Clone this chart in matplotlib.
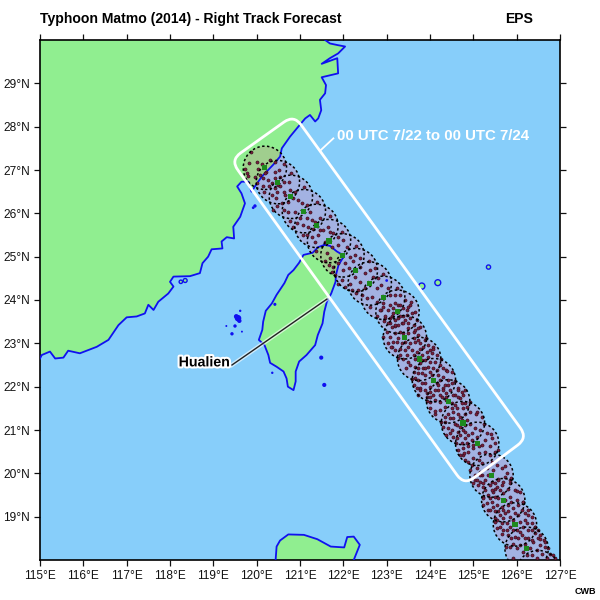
#Typhoon Matmo ensemble track map, EPS right track forecast
import numpy as np
import matplotlib
matplotlib.use("Agg")
import matplotlib.pyplot as plt
import matplotlib.patheffects as pe
from matplotlib.path import Path
from matplotlib.patches import PathPatch, Circle

plt.rcParams['font.family'] = ['Liberation Sans', 'DejaVu Sans']

# coastlines, lon/lat
china_lon = [115.0, 121.58, 121.69, 121.88, 122.04, 121.88, 121.69, 121.50, 121.86, 121.88, 121.50, 121.60, 121.58, 121.46, 121.49, 121.42, 121.35, 121.23, 121.12, 120.96, 120.77, 120.58, 120.54, 120.38, 120.12, 119.96, 119.88, 119.81, 119.65, 119.55, 119.65, 119.73, 119.62, 119.46, 119.48, 119.31, 119.19, 119.21, 118.96, 118.88, 118.75, 118.69, 118.46, 118.08, 118.00, 118.08, 117.96, 117.73, 117.62, 117.50, 117.42, 117.23, 117.00, 116.81, 116.58, 116.31, 115.92, 115.65, 115.54, 115.35, 115.23, 115.04, 115.00]
china_lat = [30.0, 30.00, 29.92, 29.88, 29.85, 29.69, 29.58, 29.45, 29.58, 29.23, 29.14, 28.96, 28.77, 28.62, 28.38, 28.19, 28.12, 28.27, 28.19, 28.00, 27.77, 27.50, 27.31, 27.12, 26.85, 26.62, 26.50, 26.73, 26.73, 26.62, 26.46, 26.23, 25.92, 25.69, 25.42, 25.45, 25.35, 25.19, 25.17, 25.00, 24.85, 24.62, 24.55, 24.54, 24.42, 24.31, 24.15, 23.96, 23.77, 23.89, 23.69, 23.62, 23.60, 23.42, 23.08, 22.92, 22.77, 22.83, 22.67, 22.65, 22.81, 22.73, 22.65]
taiwan_lon = [121.56, 121.42, 121.29, 121.08, 120.98, 120.85, 120.73, 120.64, 120.46, 120.35, 120.21, 120.15, 120.13, 120.05, 120.18, 120.27, 120.31, 120.46, 120.62, 120.69, 120.72, 120.85, 120.90, 120.90, 120.98, 121.15, 121.35, 121.41, 121.52, 121.56, 121.62, 121.72, 121.82, 121.83, 121.89, 122.02, 121.85, 121.69]
taiwan_lat = [25.27, 25.22, 25.09, 25.04, 24.86, 24.69, 24.58, 24.39, 24.12, 23.92, 23.75, 23.50, 23.31, 23.08, 22.96, 22.73, 22.55, 22.46, 22.35, 22.19, 22.00, 21.92, 22.12, 22.35, 22.58, 22.73, 22.96, 23.19, 23.46, 23.73, 23.96, 24.15, 24.42, 24.58, 24.81, 25.02, 25.12, 25.25]
luzon_lon = [120.43, 120.46, 120.54, 120.73, 121.09, 121.40, 121.71, 122.02, 122.09, 122.24, 122.38, 122.20]
luzon_lat = [17.90, 18.31, 18.45, 18.59, 18.58, 18.48, 18.31, 18.29, 18.53, 18.54, 18.35, 17.90]

# small islands: green ones with an outline, tiny ones only show as blue specks
isle_lon = [123.81, 124.18, 125.35, 118.35, 118.25]
isle_lat = [24.32, 24.40, 24.76, 24.45, 24.42]
isle_size = [20, 18, 9, 8, 6]
speck_lon = [119.57, 119.62, 119.43, 119.50, 119.30, 119.66, 119.53, 119.60, 121.49, 121.56, 120.36, 119.96, 119.92, 120.42, 123.00]
speck_lat = [23.58, 23.75, 23.22, 23.40, 23.40, 23.27, 23.62, 23.52, 22.67, 22.04, 22.32, 26.17, 26.13, 23.90, 24.45]
speck_size = [22, 3, 6, 6, 2, 2, 12, 10, 9, 9, 3, 6, 4, 5, 4]

# forecast centres (green squares)
track_lon = [120.19, 120.49, 120.79, 121.09, 121.38, 121.67, 121.98, 122.29, 122.61, 122.92, 123.25, 123.42, 123.75, 124.09, 124.42, 124.76, 125.09, 125.42, 125.69, 125.96, 126.23, 126.50]
track_lat = [27.05, 26.72, 26.38, 26.05, 25.71, 25.36, 25.03, 24.69, 24.38, 24.05, 23.73, 23.14, 22.64, 22.15, 21.66, 21.16, 20.68, 19.95, 19.38, 18.82, 18.26, 17.72]
radius = 0.5

# ensemble members
member_lon = [119.88, 119.83, 120.00, 119.73, 119.77, 119.81, 120.04, 120.12, 120.31, 120.42, 120.21, 120.08, 119.96, 120.15, 120.00, 120.14, 120.27, 120.35, 120.29, 120.42, 120.52, 120.62, 120.42, 120.54, 120.62, 120.42, 120.48, 120.62, 120.75, 120.77, 120.35, 120.45, 120.65, 120.88, 120.85, 120.58, 120.73, 120.96, 121.04, 120.38, 120.62, 120.73, 120.88, 121.15, 121.23, 121.00, 121.15, 121.27, 121.35, 120.92, 121.08, 120.85, 121.46, 121.19, 121.31, 121.46, 121.15, 121.27, 121.42, 121.54, 121.65, 121.77, 121.35, 121.69, 121.88, 122.00, 121.58, 121.88, 122.08, 121.73, 120.46, 120.50, 120.54, 120.19,
    121.62, 121.69, 121.58, 121.77, 121.73, 121.81, 121.88, 122.00, 122.04, 122.15, 122.27, 122.38, 122.23, 122.12, 122.38, 122.50, 122.62, 122.73, 121.88, 122.04, 122.15, 122.27, 122.38, 122.19, 122.35, 122.50, 122.42, 122.69, 122.81, 122.88, 123.04, 122.77, 122.65, 122.54, 122.77, 122.92, 123.08, 123.19, 123.31, 123.42, 123.27, 123.15, 123.04, 122.88, 122.77, 122.96, 123.12, 123.27, 123.38, 123.54, 123.65, 123.46, 123.35, 123.08, 123.19,
    122.85, 122.92, 123.08, 123.19, 123.31, 123.38, 123.50, 123.58, 122.96, 123.08, 123.19, 123.31, 123.42, 123.50, 123.62, 123.69, 123.77, 123.27, 123.12, 123.00, 122.92, 123.08, 123.19, 123.31, 123.50, 123.62, 123.73, 123.04, 123.15, 123.27, 123.19, 123.31, 123.42, 123.54, 123.65, 123.77, 123.88, 123.96, 124.08, 123.58, 123.69, 123.81, 123.92, 124.04, 124.15, 123.46, 123.38, 123.50, 123.65, 123.88, 123.77, 123.65, 123.62, 123.73, 123.85, 123.96, 124.08, 124.23, 124.38, 124.50, 124.31, 124.19, 124.04, 123.88, 123.73, 123.62, 123.77, 123.88, 124.00, 124.15, 124.35, 124.50, 124.65, 124.81, 124.58, 124.19, 124.08, 123.92, 123.73, 124.27, 124.38, 124.69, 124.50, 124.81,
    124.00, 124.12, 124.23, 124.35, 124.58, 124.73, 124.85, 124.92, 125.08, 125.19, 124.54, 124.65, 124.77, 124.46, 124.35, 124.31, 124.42, 124.58, 124.73, 124.65, 124.54, 124.77, 124.92, 125.04, 125.15, 125.31, 125.42, 125.50, 125.27, 125.38, 125.19, 124.88, 124.81, 124.73, 124.65, 124.77, 124.88, 125.00, 125.12, 125.27, 125.38, 125.50, 125.00, 124.88, 125.08, 125.19, 125.31, 125.54, 125.65, 125.77, 125.04, 125.15, 125.27, 125.42, 125.58, 125.69, 125.85, 125.00, 125.23, 125.50,
    125.27, 125.38, 125.50, 125.65, 125.81, 125.96, 126.08, 125.23, 125.35, 125.46, 125.62, 125.85, 126.00, 126.15, 125.31, 125.42, 125.54, 125.65, 125.81, 125.92, 126.12, 126.27, 126.35, 125.35, 125.50, 125.62, 125.73, 125.85, 126.04, 126.19, 126.35, 126.42, 125.54, 125.65, 125.77, 125.54, 125.69, 125.85, 126.00, 126.15, 126.27, 126.42, 126.54, 126.62, 125.81, 125.96, 126.12, 126.27, 126.38, 126.54, 126.65, 126.08, 126.19, 126.31, 125.92, 126.46, 125.85, 126.77, 126.58, 126.88, 126.35, 126.46, 126.69,
    124.19, 124.31, 124.42, 124.12, 124.23, 124.00, 124.38, 124.54, 124.65, 124.77, 123.92, 124.50, 124.42, 124.62, 124.69, 124.81, 124.85, 124.35, 124.54, 124.62, 124.50, 124.69, 124.81, 124.38, 124.62, 124.69, 124.81, 124.96, 125.08, 124.96, 124.85, 125.00, 125.12, 124.77, 124.88, 124.69, 124.81, 125.12, 124.96, 125.19, 125.42, 125.15, 125.04, 125.35, 125.46,
    123.15, 123.27, 123.46, 123.38, 123.54, 123.19, 123.04, 123.50, 123.65, 123.38, 123.23, 123.42, 123.12, 123.35, 123.62, 123.73, 123.85, 124.00, 123.50, 123.77, 123.62, 123.73, 123.31, 123.54, 123.96, 124.00, 123.81, 124.12, 123.73, 123.88, 123.81, 124.00, 124.15, 124.31, 123.65, 123.81, 124.08, 124.23, 124.42, 123.69, 123.88, 124.00, 124.31, 124.46, 124.12, 124.23, 124.00, 124.38, 124.65,
    125.15, 125.23, 125.08, 125.58, 125.73, 125.85, 125.42, 125.54, 125.69, 125.50, 125.58, 125.38, 125.73, 125.88, 126.04, 125.23, 125.46, 125.69, 125.81, 125.96, 126.19, 125.58, 125.50, 125.69, 125.92, 126.08, 126.23, 125.62, 125.77, 125.92, 126.08, 126.35, 126.50, 125.88, 126.04, 126.19, 126.35, 126.50, 126.00, 126.15, 126.23, 126.65, 126.73, 126.85]
member_lat = [27.42, 27.17, 27.19, 27.02, 26.92, 26.87, 27.02, 27.15, 27.22, 27.19, 26.96, 26.89, 26.83, 26.81, 26.71, 26.62, 26.76, 26.69, 26.62, 26.81, 27.00, 27.15, 26.96, 26.83, 26.73, 26.58, 26.50, 26.50, 26.73, 26.54, 26.42, 26.35, 26.42, 26.50, 26.35, 26.23, 26.27, 26.31, 26.23, 26.08, 26.08, 26.04, 26.04, 26.19, 26.04, 25.89, 25.89, 25.85, 25.81, 25.77, 25.73, 25.69, 25.89, 25.69, 25.65, 25.62, 25.50, 25.46, 25.50, 25.62, 25.69, 25.54, 25.35, 25.58, 25.46, 25.39, 25.35, 25.27, 25.23, 25.23, 26.69, 26.65, 26.62, 26.92,
    25.08, 24.96, 24.89, 24.77, 24.65, 24.58, 24.85, 24.69, 24.85, 25.00, 25.04, 24.96, 24.89, 24.73, 24.77, 24.62, 24.69, 24.73, 24.38, 24.31, 24.38, 24.54, 24.42, 24.23, 24.23, 24.27, 24.12, 24.54, 24.50, 24.35, 24.27, 24.27, 24.08, 24.04, 23.96, 23.92, 24.12, 24.12, 24.12, 24.00, 23.89, 23.81, 23.77, 23.77, 23.62, 23.58, 23.62, 23.58, 23.62, 23.89, 23.73, 23.77, 23.46, 23.46, 23.39,
    23.77, 23.85, 23.88, 23.92, 23.88, 23.81, 23.85, 23.69, 23.62, 23.58, 23.54, 23.62, 23.54, 23.46, 23.42, 23.54, 23.38, 23.42, 23.38, 23.27, 23.15, 23.15, 23.23, 23.27, 23.23, 23.27, 23.19, 23.00, 23.04, 23.12, 22.85, 22.88, 22.85, 23.00, 23.04, 23.00, 23.08, 22.96, 22.92, 22.85, 22.81, 22.73, 22.81, 22.77, 22.73, 22.73, 22.65, 22.58, 22.65, 22.62, 22.54, 22.46, 22.35, 22.31, 22.42, 22.46, 22.42, 22.50, 22.38, 22.35, 22.23, 22.27, 22.27, 22.27, 22.15, 22.04, 21.96, 22.08, 22.00, 22.08, 22.04, 22.08, 21.96, 21.92, 21.81, 21.92, 21.81, 21.77, 21.81, 21.77, 21.85, 21.73, 21.62, 21.62,
    21.50, 21.38, 21.46, 21.54, 21.58, 21.62, 21.54, 21.42, 21.42, 21.31, 21.42, 21.38, 21.50, 21.27, 21.19, 21.08, 21.04, 21.15, 21.23, 20.96, 20.85, 21.00, 21.15, 21.04, 21.00, 20.92, 20.81, 20.69, 20.77, 20.62, 20.65, 20.88, 20.81, 20.69, 20.54, 20.42, 20.50, 20.58, 20.46, 20.50, 20.42, 20.50, 20.35, 20.27, 20.12, 19.96, 20.12, 20.19, 20.12, 20.00, 19.96, 19.81, 19.85, 19.81, 19.88, 19.81, 19.77, 19.77, 19.69, 19.65,
    19.62, 19.73, 19.77, 19.73, 19.65, 19.62, 19.58, 19.46, 19.50, 19.58, 19.62, 19.46, 19.38, 19.35, 19.31, 19.35, 19.27, 19.23, 19.27, 19.19, 19.15, 19.15, 19.00, 19.15, 19.12, 19.04, 19.08, 19.00, 19.04, 18.92, 18.85, 18.77, 18.92, 18.85, 18.85, 18.73, 18.69, 18.77, 18.69, 18.77, 18.69, 18.62, 18.58, 18.46, 18.58, 18.54, 18.58, 18.50, 18.42, 18.35, 18.31, 18.35, 18.38, 18.27, 18.38, 18.23, 18.31, 18.15, 18.15, 18.04, 18.12, 18.04, 18.04,
    22.04, 21.96, 22.04, 21.92, 21.81, 21.77, 21.77, 21.81, 21.92, 21.81, 21.85, 21.50, 21.38, 21.50, 21.31, 21.38, 21.23, 21.31, 21.27, 21.12, 21.00, 21.08, 21.12, 20.88, 20.81, 20.88, 20.96, 20.92, 20.85, 20.77, 20.69, 20.65, 20.62, 20.58, 20.62, 20.42, 20.31, 20.31, 20.19, 20.23, 20.27, 20.04, 19.85, 19.96, 20.08,
    23.69, 23.73, 23.65, 23.46, 23.58, 23.42, 23.46, 23.35, 23.31, 23.23, 23.04, 23.04, 22.92, 23.00, 23.12, 23.08, 22.92, 22.85, 22.92, 22.88, 22.73, 22.69, 22.73, 22.50, 22.69, 22.58, 22.62, 22.58, 22.42, 22.42, 22.31, 22.35, 22.38, 22.42, 22.19, 22.08, 22.15, 22.15, 22.15, 21.96, 21.92, 21.88, 21.92, 21.92, 21.69, 21.65, 21.65, 21.69, 21.77,
    19.96, 19.77, 19.85, 19.85, 19.92, 19.85, 19.62, 19.69, 19.54, 19.46, 19.42, 19.42, 19.38, 19.35, 19.27, 19.27, 19.23, 19.15, 19.12, 19.08, 19.08, 19.12, 18.96, 18.96, 18.92, 18.88, 18.85, 18.77, 18.69, 18.69, 18.65, 18.69, 18.69, 18.50, 18.50, 18.50, 18.46, 18.50, 18.27, 18.19, 18.12, 18.42, 18.27, 18.12]

# members out near the rim of the circles, both sides of the track
rim_lon = [124.06, 123.44, 124.40, 123.78, 124.73, 124.11, 125.07, 124.45, 125.40, 124.78, 125.73, 125.11, 126.00, 125.38, 126.27, 125.65, 126.54, 125.92, 123.73, 123.11, 123.56, 122.94, 123.23, 122.61, 122.92, 122.30, 122.60, 121.98, 122.29, 121.67, 121.98, 121.36, 121.69, 121.07, 121.40, 120.78, 121.10, 120.48, 120.80, 120.18,
    123.91, 123.25, 124.25, 123.59, 124.58, 123.92, 124.92, 124.26, 125.25, 124.59, 125.58, 124.92, 125.88, 125.22, 126.15, 125.49, 126.42, 125.76]
rim_lat = [22.86, 22.42, 22.37, 21.93, 21.88, 21.44, 21.38, 20.94, 20.90, 20.46, 20.17, 19.73, 19.60, 19.16, 19.04, 18.60, 18.48, 18.04, 23.36, 22.92, 23.95, 23.51, 24.27, 23.83, 24.60, 24.16, 24.91, 24.47, 25.25, 24.81, 25.58, 25.14, 25.93, 25.49, 26.27, 25.83, 26.60, 26.16, 26.94, 26.50,
    23.12, 22.66, 22.63, 22.17, 22.13, 21.67, 21.64, 21.18, 21.15, 20.69, 20.54, 20.08, 19.89, 19.43, 19.33, 18.87, 18.77, 18.31]

# forecast box corners
box_lon = [119.40, 120.86, 126.25, 124.79]
box_lat = [27.23, 28.27, 20.82, 19.73]

xticks = np.arange(115, 128)
yticks = np.arange(19, 30)
ocean = '#87CEFA'
land = '#90EE90'
coast = '#1010F0'


def rounded_box(xs, ys, r):
    # closed polygon with quadratic bezier corners
    verts, codes = [], []
    n = len(xs)
    for i in range(n):
        p = np.array([xs[i], ys[i]])
        a = np.array([xs[i-1], ys[i-1]])
        b = np.array([xs[(i+1) % n], ys[(i+1) % n]])
        p1 = p + (a-p)/np.linalg.norm(a-p)*r
        p2 = p + (b-p)/np.linalg.norm(b-p)*r
        verts += [p1, p, p2]
        codes += [Path.MOVETO if i == 0 else Path.LINETO, Path.CURVE3, Path.CURVE3]
    verts.append(verts[0])
    codes.append(Path.LINETO)
    return Path(verts, codes)


fig = plt.figure(figsize=(6, 6), dpi=100)
ax = fig.add_axes([40/600, 40/600, 520/600, 520/600])
ax.set_facecolor(ocean)
ax.set_xlim(115, 127)
ax.set_ylim(18, 30)

# all circles in one path so the shading does not stack where they overlap
circle_paths = [Path.circle((x, y), radius) for x, y in zip(track_lon, track_lat)]
ax.add_patch(PathPatch(Path.make_compound_path(*circle_paths), fc='#A3B2E2', ec='none', zorder=1))

land_polys = []
for lon, lat in [(china_lon, china_lat), (taiwan_lon, taiwan_lat), (luzon_lon, luzon_lat)]:
    xy = np.column_stack([lon, lat])
    land_polys.append(Path(np.vstack([xy, xy[0]]), closed=True))
land_patch = PathPatch(Path.make_compound_path(*land_polys), fc=land, ec='none', zorder=2)
ax.add_patch(land_patch)

# same shading but greener where it lies over land
over_land = PathPatch(Path.make_compound_path(*circle_paths), fc='#A0CE8E', ec='none', zorder=3)
ax.add_patch(over_land)
over_land.set_clip_path(land_patch)

ax.plot(china_lon[1:], china_lat[1:], color=coast, lw=1.3, zorder=4)
ax.plot(taiwan_lon+taiwan_lon[:1], taiwan_lat+taiwan_lat[:1], color=coast, lw=1.3, zorder=4)
ax.plot(luzon_lon, luzon_lat, color=coast, lw=1.3, zorder=4)
ax.scatter(isle_lon, isle_lat, s=isle_size, c=land, edgecolors=coast, linewidths=1.0, zorder=4)
ax.scatter(speck_lon, speck_lat, s=speck_size, c=coast, edgecolors='none', zorder=4)

ax.scatter(member_lon+rim_lon, member_lat+rim_lat, s=5, c='#7A1F3D', edgecolors='#2A0A18', linewidths=0.4, zorder=5)
for x, y in zip(track_lon, track_lat):
    ax.add_patch(Circle((x, y), radius, fc='none', ec='black', lw=1.1, ls=(0, (1.6, 1.6)), zorder=6))
ax.scatter(track_lon, track_lat, s=14, marker='s', c='#1E8A1E', edgecolors='none', zorder=7)

ax.add_patch(PathPatch(rounded_box(box_lon, box_lat, 0.28), fc='none', ec='white', lw=2.0, zorder=8))

# labels
ax.plot([121.62, 119.43], [24.02, 22.50], color='#222222', lw=1.0, zorder=9,
        path_effects=[pe.Stroke(linewidth=3, foreground='white', alpha=0.6), pe.Normal()])
ax.text(119.38, 22.56, 'Hualien', ha='right', va='center', fontsize=10.2, fontweight='bold', zorder=10,
        path_effects=[pe.withStroke(linewidth=3, foreground='white')])
ax.plot([121.48, 121.77], [27.46, 27.73], color='white', lw=1.3, zorder=9)
ax.text(121.85, 27.78, '00 UTC 7/22 to 00 UTC 7/24', color='white', ha='left', va='center',
        fontsize=10.8, fontweight='bold', zorder=10)

ax.set_xticks(xticks)
ax.set_yticks(yticks)
ax.set_xticklabels(['%d°E' % v for v in xticks])
ax.set_yticklabels(['%d°N' % v for v in yticks])
ax.tick_params(direction='out', length=4, width=0.9, top=True, right=True, labelsize=8.6, pad=3, colors='#111111')
for spine in ax.spines.values():
    spine.set_linewidth(1.2)

fig.text(40/600, 1-19/600, 'Typhoon Matmo (2014) - Right Track Forecast', fontsize=10.1, fontweight='bold', va='center')
fig.text(533/600, 1-19/600, 'EPS', fontsize=10.1, fontweight='bold', ha='right', va='center')
fig.text(596/600, 1-592/600, 'CWB', fontsize=6.5, fontweight='bold', ha='right', va='center')

fig.savefig('out.png', dpi=100)
